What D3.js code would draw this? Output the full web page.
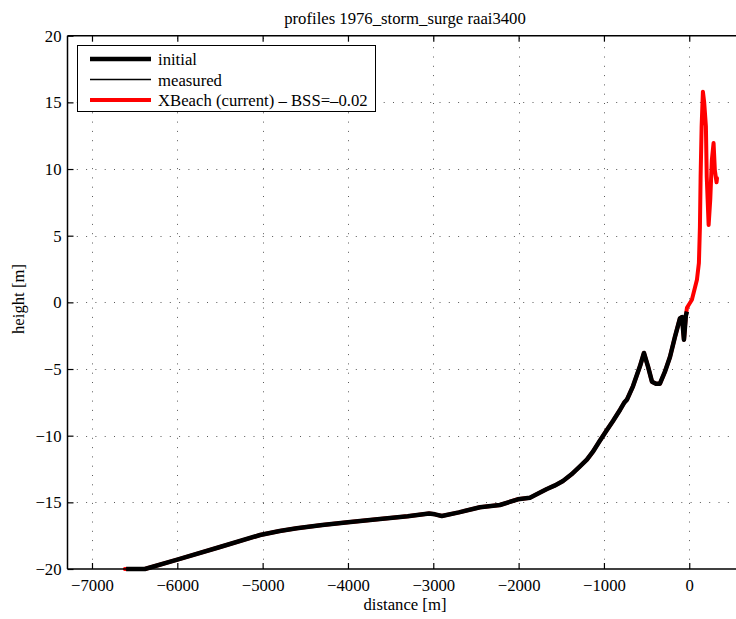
<!DOCTYPE html>
<html>
<head>
<meta charset="utf-8">
<script src="https://cdn.jsdelivr.net/npm/d3@7/dist/d3.min.js"></script>
<style>
  html, body { margin: 0; padding: 0; background: #fff; }
  svg { display: block; font-family: "Liberation Serif", "DejaVu Serif", serif; }
</style>
</head>
<body>
<svg id="chart" width="736" height="619"></svg>
<script>
// Cross-shore profile, raai 3400, 1976 storm surge
const initialDist = [-6600, -6380, -6000, -5500, -5030, -4800, -4600, -4300, -4000, -3625, -3300, -3050, -2980, -2900, -2700, -2453, -2219, -2008, -1867, -1760, -1668, -1580, -1480, -1380, -1281, -1200, -1129, -1050, -965, -894, -812, -760, -730, -660, -578, -531, -484, -437, -390, -344, -285, -226, -168, -109, -85, -62, -40, -27];
const initialHeight = [-20, -20, -19.3, -18.35, -17.45, -17.15, -16.95, -16.7, -16.5, -16.25, -16.05, -15.83, -15.9, -16.02, -15.75, -15.37, -15.2, -14.77, -14.65, -14.3, -14.0, -13.75, -13.4, -12.9, -12.3, -11.8, -11.2, -10.4, -9.57, -8.9, -8.07, -7.5, -7.3, -6.3, -4.8, -3.8, -4.8, -5.95, -6.1, -6.1, -5.2, -4.1, -2.6, -1.2, -1.1, -2.8, -1.0, -0.7];

const measuredDist = [];
const measuredHeight = [];

const xbeachDist = [-6615, -6600, -6380, -6000, -5500, -5030, -4800, -4600, -4300, -4000, -3625, -3300, -3050, -2980, -2900, -2700, -2453, -2219, -2008, -1867, -1760, -1668, -1580, -1480, -1380, -1281, -1200, -1129, -1050, -965, -894, -812, -760, -730, -660, -578, -531, -484, -437, -390, -344, -285, -226, -168, -109, -85, -62, -40, -27, 31, 90, 113, 125, 133, 145, 160, 175, 195, 205, 227, 246, 265, 285, 300, 320, 325];
const xbeachHeight = [-20, -20, -20, -19.3, -18.35, -17.45, -17.15, -16.95, -16.7, -16.5, -16.25, -16.05, -15.83, -15.9, -16.02, -15.75, -15.37, -15.2, -14.77, -14.65, -14.3, -14.0, -13.75, -13.4, -12.9, -12.3, -11.8, -11.2, -10.4, -9.57, -8.9, -8.07, -7.5, -7.3, -6.3, -4.8, -3.8, -4.8, -5.95, -6.1, -6.1, -5.2, -4.1, -2.6, -1.2, -1.1, -2.8, -1.0, -0.4, 0.2, 1.7, 2.95, 5.65, 9.4, 13.2, 15.8, 15.0, 13.2, 9.4, 5.8, 7.7, 10.7, 11.95, 9.9, 9.0, 9.3];

const xTicks = [-7000, -6000, -5000, -4000, -3000, -2000, -1000, 0];
const yTicks = [-20, -15, -10, -5, 0, 5, 10, 15, 20];

const legendLabels = ["initial", "measured", "XBeach (current) \u2013 BSS=\u20130.02"];
const titleText = "profiles 1976_storm_surge raai3400";

const svg = d3.select("#chart");
const axLeft = 67.5, axRight = 742.5, axTop = 35.7, axBottom = 569;
const fs = 16.7;

const x = d3.scaleLinear().domain([-7287, 624]).range([axLeft, axRight]);
const y = d3.scaleLinear().domain([-20, 20]).range([axBottom, axTop]);

const fmt = d => (d < 0 ? "\u2212" + Math.abs(d) : String(d));

// dotted grid
const grid = svg.append("g").attr("stroke", "#222").attr("stroke-width", 1)
  .attr("stroke-dasharray", "1,8.3").attr("opacity", 0.75);
grid.selectAll("line.vx").data(xTicks).join("line")
  .attr("x1", d => Math.round(x(d)) + 0.5).attr("x2", d => Math.round(x(d)) + 0.5)
  .attr("y1", axBottom).attr("y2", axTop);
grid.selectAll("line.hy").data(yTicks.slice(1, -1)).join("line")
  .attr("y1", d => Math.round(y(d)) + 0.5).attr("y2", d => Math.round(y(d)) + 0.5)
  .attr("x1", axLeft).attr("x2", axRight);

// profile lines
const line = d3.line().x(d => x(d[0])).y(d => y(d[1])).curve(d3.curveLinear);
const plot = svg.append("g");

plot.append("path")
  .datum(d3.zip(xbeachDist, xbeachHeight))
  .attr("d", line).attr("fill", "none").attr("stroke", "#ff0000")
  .attr("stroke-width", 4).attr("stroke-linejoin", "round").attr("stroke-linecap", "round");

plot.append("path")
  .datum(d3.zip(initialDist, initialHeight))
  .attr("d", line).attr("fill", "none").attr("stroke", "#000")
  .attr("stroke-width", 4.5).attr("stroke-linejoin", "round").attr("stroke-linecap", "butt");

if (measuredDist.length) {
  plot.append("path")
    .datum(d3.zip(measuredDist, measuredHeight))
    .attr("d", line).attr("fill", "none").attr("stroke", "#000").attr("stroke-width", 1.5);
}

// frame
svg.append("line").attr("x1", axLeft).attr("x2", axLeft).attr("y1", axTop).attr("y2", axBottom)
  .attr("stroke", "#000").attr("stroke-width", 1.5);
svg.append("line").attr("x1", axLeft).attr("x2", 740).attr("y1", axBottom).attr("y2", axBottom)
  .attr("stroke", "#000").attr("stroke-width", 1.5);
svg.append("line").attr("x1", axLeft).attr("x2", 740).attr("y1", axTop).attr("y2", axTop)
  .attr("stroke", "#000").attr("stroke-width", 1.5);

// axes with inward ticks
const xAxis = d3.axisBottom(x).tickValues(xTicks).tickSize(-6).tickPadding(10).tickFormat(fmt);
const gx = svg.append("g").attr("transform", `translate(0,${axBottom})`).call(xAxis);
const xAxisTop = d3.axisTop(x).tickValues(xTicks).tickSize(-6).tickFormat("");
const gxt = svg.append("g").attr("transform", `translate(0,${axTop})`).call(xAxisTop);
const yAxis = d3.axisLeft(y).tickValues(yTicks).tickSize(-6).tickPadding(6).tickFormat(fmt);
const gy = svg.append("g").attr("transform", `translate(${axLeft},0)`).call(yAxis);

[gx, gxt, gy].forEach(g => {
  g.select(".domain").remove();
  g.selectAll(".tick line").attr("stroke", "#000").attr("stroke-width", 1.2);
  g.selectAll(".tick text").attr("font-family", "Liberation Serif").attr("font-size", fs).attr("fill", "#000");
});

// labels
svg.append("text").attr("x", 405).attr("y", 24).attr("text-anchor", "middle")
  .attr("font-size", fs).text(titleText);
svg.append("text").attr("x", 405).attr("y", 610).attr("text-anchor", "middle")
  .attr("font-size", fs).text("distance [m]");
svg.append("text").attr("transform", "translate(24,299) rotate(-90)").attr("text-anchor", "middle")
  .attr("font-size", fs).text("height [m]");

// legend
const lg = svg.append("g");
lg.append("rect").attr("x", 77.5).attr("y", 45.5).attr("width", 298).attr("height", 66)
  .attr("fill", "#fff").attr("stroke", "#000").attr("stroke-width", 1);
const legendStyles = [
  { color: "#000", width: 4.5 },
  { color: "#000", width: 1.5 },
  { color: "#ff0000", width: 4 }
];
legendLabels.forEach((lab, i) => {
  const ly = 59 + i * 20.5;
  lg.append("line").attr("x1", 90).attr("x2", 151).attr("y1", ly).attr("y2", ly)
    .attr("stroke", legendStyles[i].color).attr("stroke-width", legendStyles[i].width);
  lg.append("text").attr("x", 158).attr("y", ly + 6).attr("font-size", fs).text(lab);
});
</script>
</body>
</html>
